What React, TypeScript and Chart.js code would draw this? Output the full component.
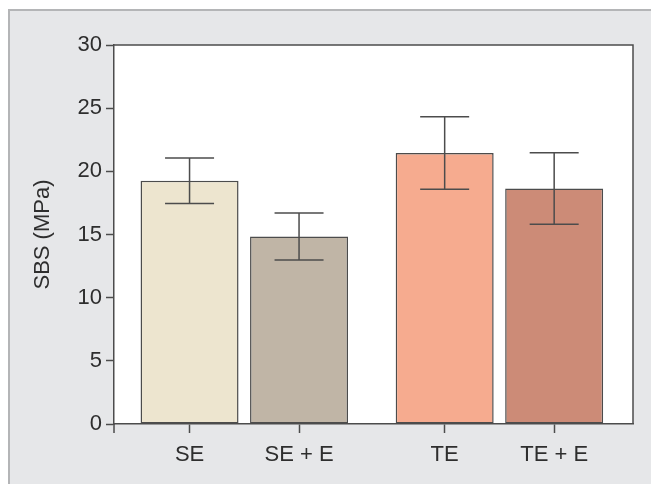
import { useEffect, useRef } from "react";
import { Chart, registerables } from "chart.js";

Chart.register(...registerables);

// ---- data ----
const categories = ["SE", "SE + E", "TE", "TE + E"];
const groupSlots = [1, 2, 3.33, 4.33]; // SE pair and TE pair, with a wider gap between pairs
const means = [19.25, 14.85, 21.45, 18.65];
const sds = [1.8, 1.86, 2.87, 2.83];
const yTickValues = [0, 5, 10, 15, 20, 25, 30];
const yTitle = "SBS (MPa)";

// ---- styles ----
const barColors = ["#ede5cf", "#c0b5a6", "#f6ab8f", "#cc8b77"];
const lineColor = "#4c4c4c";
const textColor = "#2e2e2e";
const panelColor = "#e6e7e9";
const fontFamily = "'Liberation Sans', Arial, Helvetica, sans-serif";

const panelPlugin = {
  id: "panel",
  beforeDraw(chart: any) {
    const { ctx, width, height } = chart;
    ctx.save();
    ctx.fillStyle = "#ffffff";
    ctx.fillRect(0, 0, width, height);
    ctx.fillStyle = panelColor;
    ctx.fillRect(8, 9, width - 8, height - 9);
    ctx.strokeStyle = "#b4b5b7";
    ctx.lineWidth = 2;
    ctx.beginPath();
    ctx.moveTo(9, height);
    ctx.lineTo(9, 10);
    ctx.lineTo(width, 10);
    ctx.stroke();
    const a = chart.chartArea;
    ctx.fillStyle = "#ffffff";
    ctx.fillRect(a.left, a.top, a.right - a.left, a.bottom - a.top);
    ctx.restore();
  },
};

const errorBarPlugin = {
  id: "errorBars",
  afterDatasetsDraw(chart: any) {
    const { ctx } = chart;
    const y = chart.scales.y;
    const meta = chart.getDatasetMeta(0);
    ctx.save();
    ctx.strokeStyle = lineColor;
    ctx.lineWidth = 1.5;
    meta.data.forEach((el: any, i: number) => {
      const x = el.x;
      const yt = y.getPixelForValue(means[i] + sds[i]);
      const yb = y.getPixelForValue(means[i] - sds[i]);
      const cap = 24.5;
      ctx.beginPath();
      ctx.moveTo(x, yt);
      ctx.lineTo(x, yb);
      ctx.moveTo(x - cap, yt);
      ctx.lineTo(x + cap, yt);
      ctx.moveTo(x - cap, yb);
      ctx.lineTo(x + cap, yb);
      ctx.stroke();
    });
    ctx.restore();
  },
};

const framePlugin = {
  id: "frame",
  afterDraw(chart: any) {
    const { ctx } = chart;
    const a = chart.chartArea;
    ctx.save();
    ctx.strokeStyle = lineColor;
    ctx.lineWidth = 1.5;
    ctx.beginPath();
    ctx.moveTo(a.left, a.top);
    ctx.lineTo(a.right, a.top);
    ctx.lineTo(a.right, a.bottom);
    ctx.moveTo(a.left, a.bottom);
    ctx.lineTo(a.left, a.bottom + 9);
    ctx.stroke();
    ctx.restore();
  },
};

export default function App() {
  const ref = useRef<HTMLCanvasElement | null>(null);

  useEffect(() => {
    if (!ref.current) return;
    const font = { family: fontFamily, size: 22 };
    const chart = new Chart(ref.current, {
      type: "bar",
      data: {
        datasets: [
          {
            data: categories.map((_, i) => ({ x: groupSlots[i], y: means[i] })) as any,
            backgroundColor: barColors,
            borderColor: lineColor,
            borderWidth: 1.5,
            borderSkipped: false,
            barPercentage: 0.895,
            categoryPercentage: 1,
          },
        ],
      },
      options: {
        responsive: false,
        animation: false,
        layout: { padding: { top: 45, right: 18, left: 0, bottom: 0 } },
        plugins: {
          legend: { display: false },
          tooltip: { enabled: false },
        },
        scales: {
          x: {
            type: "linear",
            min: 0.31,
            max: 5.05,
            offset: false,
            afterBuildTicks: (s: any) => {
              s.ticks = groupSlots.map((v) => ({ value: v }));
            },
            afterFit: (s: any) => {
              s.height = 60;
            },
            ticks: {
              autoSkip: false,
              maxRotation: 0,
              minRotation: 0,
              padding: 9,
              color: textColor,
              font,
              callback: (_v: any, i: number) => categories[i],
            },
            grid: {
              drawOnChartArea: false,
              drawTicks: true,
              tickLength: 9,
              tickWidth: 1.5,
              color: lineColor,
              offset: false,
            },
            border: { display: true, color: lineColor, width: 1.5 },
          } as any,
          y: {
            type: "linear",
            min: 0,
            max: 30,
            afterBuildTicks: (s: any) => {
              s.ticks = yTickValues.map((v) => ({ value: v }));
            },
            afterFit: (s: any) => {
              s.width = 114;
            },
            ticks: {
              padding: 4,
              color: textColor,
              font,
            },
            grid: {
              drawOnChartArea: false,
              drawTicks: true,
              tickLength: 8,
              tickWidth: 1.5,
              color: lineColor,
            },
            border: { display: true, color: lineColor, width: 1.5 },
            title: {
              display: true,
              text: yTitle,
              color: textColor,
              font,
              padding: { top: 30, bottom: 0 },
            },
          } as any,
        },
      },
      plugins: [panelPlugin, errorBarPlugin, framePlugin],
    });
    return () => chart.destroy();
  }, []);

  return (
    <div style={{ position: "absolute", left: 0, top: 0, width: 651, height: 484 }}>
      <canvas ref={ref} width={651} height={484} style={{ display: "block" }} />
    </div>
  );
}
